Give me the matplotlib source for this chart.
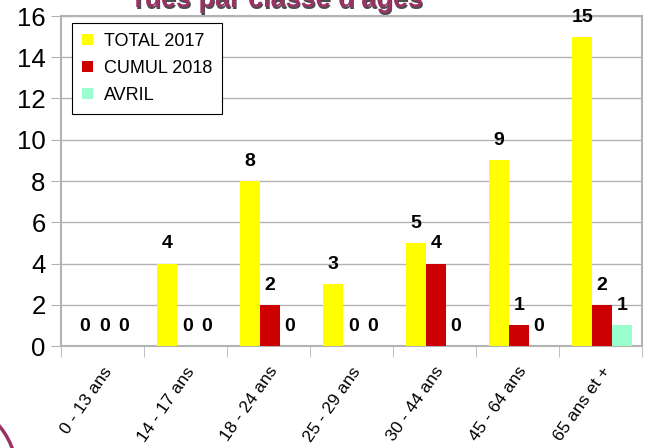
import matplotlib
matplotlib.use('Agg')
import matplotlib.pyplot as plt
from matplotlib.patches import Circle
import numpy as np

plt.rcParams['font.family'] = ['Liberation Sans', 'DejaVu Sans']

categories = ['0 - 13 ans', '14 - 17 ans', '18 - 24 ans', '25 - 29 ans',
              '30 - 44 ans', '45 - 64 ans', '65 ans et +']
total_2017 = [0, 4, 8, 3, 5, 9, 15]
cumul_2018 = [0, 0, 2, 0, 4, 1, 2]
avril = [0, 0, 0, 0, 0, 0, 1]
series = [('TOTAL 2017', total_2017, '#ffff00'),
          ('CUMUL 2018', cumul_2018, '#cc0000'),
          ('AVRIL', avril, '#99ffcc')]

fig = plt.figure(figsize=(6.56, 4.48), dpi=100)
ax = fig.add_axes([61 / 656, 1 - 346 / 448, 581 / 656, 330 / 448])

x = np.arange(len(categories))
w = 0.24
for i, (name, vals, col) in enumerate(series):
    pos = x + (i - 1) * w + 0.02
    ax.bar(pos, vals, w, color=col, label=name, zorder=3)
    for xp, v in zip(pos, vals):
        ax.annotate(str(v), (xp, v), xytext=(0, 8), textcoords='offset points',
                    ha='center', va='bottom', fontsize=14, fontweight='bold')

ax.set_xlim(-0.5, len(categories) - 0.5)
ax.set_ylim(0, 16)
ax.set_yticks(range(0, 17, 2))
ax.tick_params(axis='y', labelsize=18.5, color='#b3b3b3', length=7, pad=4)
ax.yaxis.grid(True, color='#b3b3b3', lw=1, zorder=0)

ax.set_xticks(x)
ax.set_xticklabels(categories, rotation=55, ha='right', va='top',
                   rotation_mode='anchor', fontsize=12.5)
ax.tick_params(axis='x', which='major', length=0, pad=13)
ax.set_xticks(np.arange(-0.5, len(categories)), minor=True)
ax.tick_params(axis='x', which='minor', length=8, color='#b3b3b3')

for s in ax.spines.values():
    s.set_color('#b3b3b3')
    s.set_linewidth(1.5)

leg = ax.legend(loc='upper left', bbox_to_anchor=(0.019, 0.979), fontsize=13,
                handlelength=0.6, handleheight=0.6, fancybox=False,
                framealpha=1, edgecolor='black', borderpad=0.55,
                labelspacing=0.55, handletextpad=0.6, borderaxespad=0)
leg.get_frame().set_linewidth(0.8)

title = "Tués par classe d'âges"
fig.text(276 / 656 + 0.003, 1 - 7 / 448 - 0.005, title, ha='center', va='baseline',
         fontsize=19.5, fontweight='bold', color='#4d4d4d')
fig.text(276 / 656, 1 - 7 / 448, title, ha='center', va='baseline',
         fontsize=19.5, fontweight='bold', color='#993366')

arc = Circle((-0.60, -0.27), 0.77, transform=fig.dpi_scale_trans,
             fill=False, edgecolor='#993366', lw=2.5)
fig.patches.append(arc)

fig.savefig('out.png', dpi=100)
